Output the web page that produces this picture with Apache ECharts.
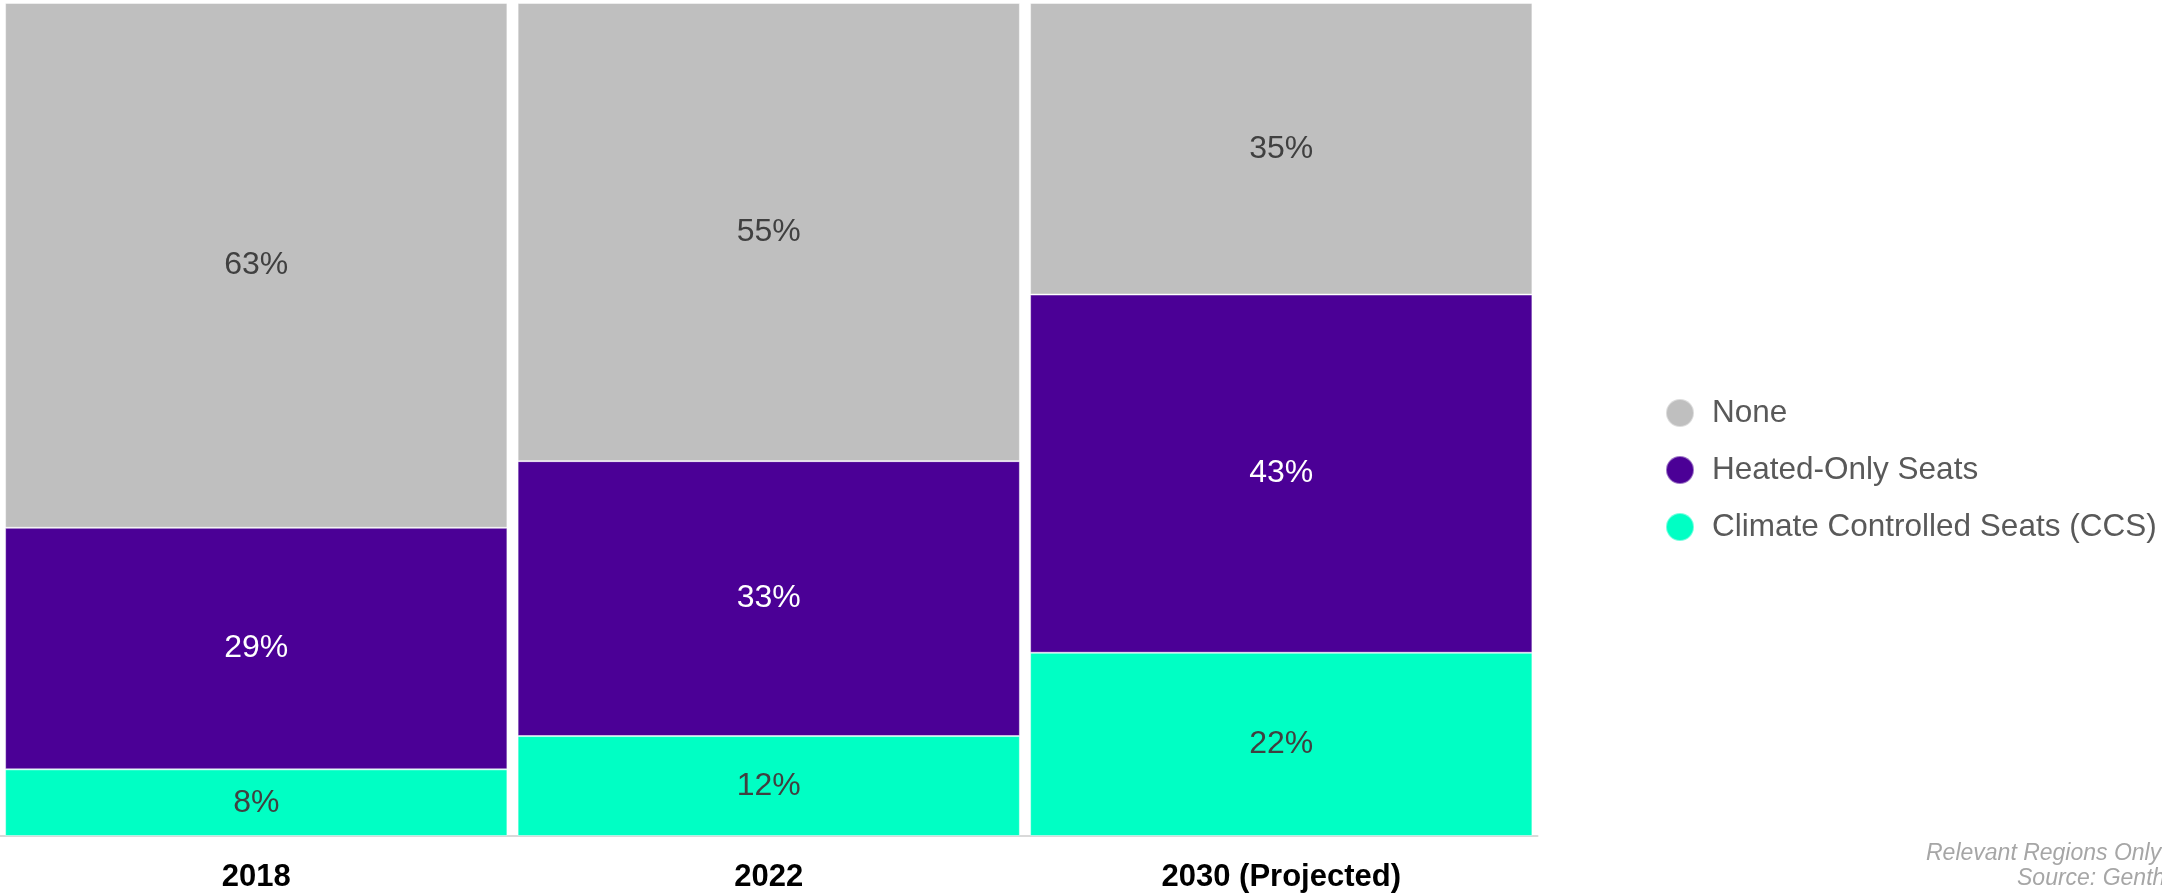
<!DOCTYPE html>
<html>
<head>
<meta charset="utf-8">
<script src="https://cdn.jsdelivr.net/npm/echarts@6/dist/echarts.min.js"></script>
<style>html,body{margin:0;padding:0;background:#fff}#c{width:2162px;height:894px}</style>
</head>
<body>
<div id="c"></div>
<script>
const categories = ['2018', '2022', '2030 (Projected)'];
const ccsValues = [8, 12, 22];
const heatedValues = [29, 33, 43];
const noneValues = [63, 55, 35];
const seriesNames = ['None', 'Heated-Only Seats', 'Climate Controlled Seats (CCS)'];
const footnoteLines = ['Relevant Regions Only', 'Source: Gentherm'];

const chart = echarts.init(document.getElementById('c'));
const font = 'Arial, "Liberation Sans", sans-serif';
function mk(name, data, color, labelColor) {
  return {
    name: name, type: 'bar', stack: 'total', data: data,
    barCategoryGap: '2%',
    itemStyle: { color: color, borderColor: 'rgba(255,255,255,0.45)', borderWidth: 1 },
    label: { show: true, position: 'inside', formatter: '{c}%', color: labelColor, fontSize: 32, fontFamily: font },
    emphasis: { disabled: true }
  };
}
chart.setOption({
  animation: false,
  grid: { left: -3, right: 624.5, top: 3, bottom: 58, containLabel: false },
  xAxis: {
    type: 'category', data: categories,
    axisLine: { show: true, lineStyle: { color: '#d9d9d9', width: 2 } },
    axisTick: { show: false },
    axisLabel: { color: '#000', fontWeight: 'bold', fontSize: 31, fontFamily: font, margin: 26 }
  },
  yAxis: { type: 'value', min: 0, max: 100, show: false, splitLine: { show: false } },
  legend: {
    data: seriesNames, orient: 'vertical', left: 1660, top: 392,
    icon: 'circle', itemWidth: 28, itemHeight: 28, itemGap: 25,
    textStyle: { color: '#595959', fontSize: 31.5, fontFamily: font, lineHeight: 28, padding: [0, 0, 0, 13] }
  },
  graphic: [
    { type: 'text', left: 1926, top: 842, style: { text: footnoteLines[0], fill: '#a6a6a6', fontSize: 23, fontStyle: 'italic', fontFamily: font } },
    { type: 'text', left: 2017, top: 867, style: { text: footnoteLines[1], fill: '#a6a6a6', fontSize: 23, fontStyle: 'italic', fontFamily: font } }
  ],
  series: [
    mk(seriesNames[2], ccsValues, '#00FFC4', '#404040'),
    mk(seriesNames[1], heatedValues, '#4B0096', '#ffffff'),
    mk(seriesNames[0], noneValues, '#BFBFBF', '#404040')
  ]
});
</script>
</body>
</html>
